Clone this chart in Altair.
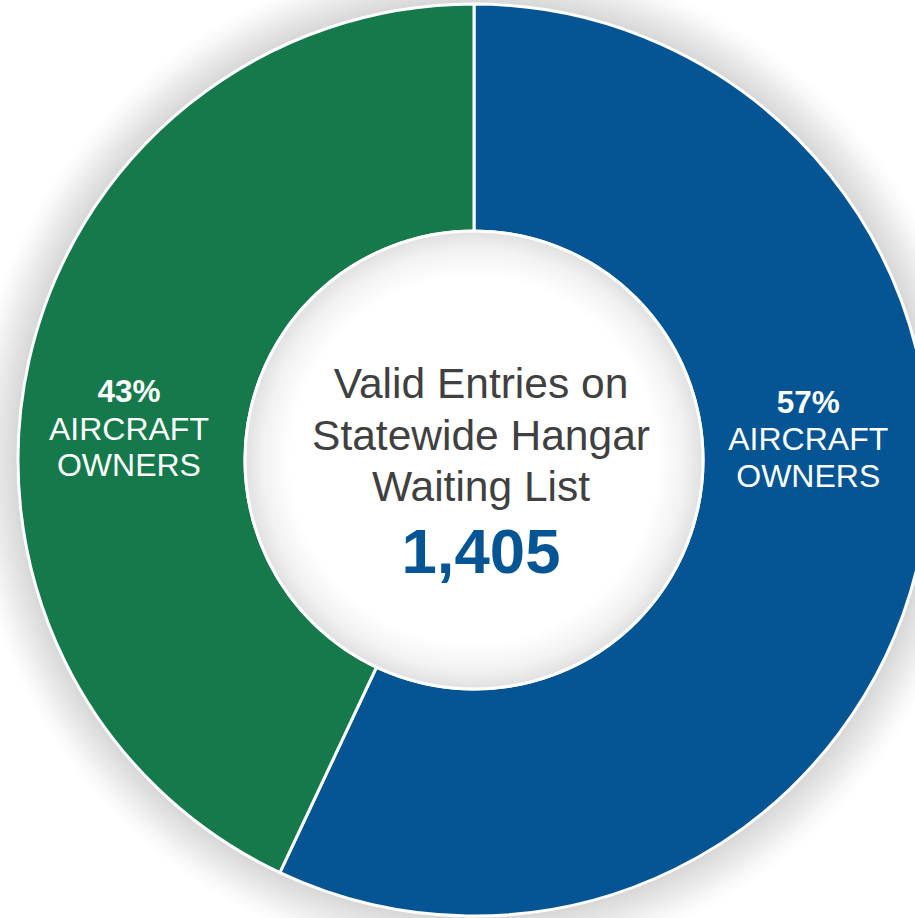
import math
import altair as alt
import pandas as pd

# ---------------- data ----------------
segments = ["Segment A", "Segment B"]
shares = [57, 43]                       # percent of entries
owner_labels = ["AIRCRAFT OWNERS", "AIRCRAFT OWNERS"]
seg_colors = ["#055594", "#15794C"]
center_lines = ["Valid Entries on", "Statewide Hangar", "Waiting List"]
total_entries = 1405

df = pd.DataFrame({
    "segment": segments,
    "share": shares,
    "idx": list(range(len(segments))),
    "label": owner_labels,
})
df["pct"] = df["share"].astype(str) + "%"
one = pd.DataFrame({"k": [0]})

# ---------------- layout / style ----------------
CX, CY = 474, 460
R_OUT, R_IN = 456, 229
R_MID = (R_OUT + R_IN) / 2
FONT = "Liberation Sans, Arial, sans-serif"
theta_scale = alt.Scale(domain=[0, sum(shares)], range=[0, 2 * math.pi])
FULL = 2 * math.pi

shadow_grad = alt.RadialGradient(
    gradient="radial", x1=0.5, y1=0.5, r1=0, x2=0.5, y2=0.5, r2=0.5,
    stops=[
        alt.GradientStop(offset=0, color="#d4d4d4"),
        alt.GradientStop(offset=0.9, color="#d4d4d4"),
        alt.GradientStop(offset=0.915, color="#dcdcdc"),
        alt.GradientStop(offset=0.945, color="#e9e9e9"),
        alt.GradientStop(offset=0.975, color="#f7f7f7"),
        alt.GradientStop(offset=1, color="#ffffff"),
    ],
)
hole_grad = alt.RadialGradient(
    gradient="radial", x1=0.5, y1=0.5, r1=0, x2=0.5, y2=0.5, r2=0.5,
    stops=[
        alt.GradientStop(offset=0, color="#ffffff"),
        alt.GradientStop(offset=0.8, color="#ffffff"),
        alt.GradientStop(offset=0.92, color="#f2f2f2"),
        alt.GradientStop(offset=1, color="#e0e0e0"),
    ],
)

pos = dict(x=alt.value(CX), y=alt.value(CY))

shadow = alt.Chart(one).mark_arc(
    theta=0, theta2=FULL, innerRadius=0, outerRadius=505, fill=shadow_grad
).encode(**pos)

donut = alt.Chart(df).mark_arc(
    innerRadius=R_IN, outerRadius=R_OUT, stroke="white", strokeWidth=3
).encode(
    theta=alt.Theta("share:Q", scale=theta_scale, stack=True),
    color=alt.Color("segment:N", scale=alt.Scale(domain=segments, range=seg_colors), legend=None),
    order=alt.Order("idx:Q", sort="ascending"),
    **pos,
)

hole = alt.Chart(one).mark_arc(
    theta=0, theta2=FULL, innerRadius=0, outerRadius=R_IN, fill=hole_grad,
    stroke="white", strokeWidth=3
).encode(**pos)


def slice_labels(i, dx, dy_pct, dy_lines):
    base = (
        alt.Chart(df)
        .transform_stack(stack="share", groupby=[], as_=["s0", "s1"],
                         sort=[alt.SortField("idx", order="ascending")])
        .transform_calculate(mid="(datum.s0 + datum.s1) / 2",
                             lines="split(datum.label, ' ')")
        .transform_filter(alt.datum.idx == i)
    )
    enc = dict(theta=alt.Theta("mid:Q", scale=theta_scale), **pos)
    pct = base.mark_text(
        radius=R_MID, dx=dx, dy=dy_pct, font=FONT, fontSize=31.5, fontWeight="bold",
        color="white", align="center", baseline="alphabetic"
    ).encode(text="pct:N", **enc)
    lines = base.mark_text(
        radius=R_MID, dx=dx, dy=dy_lines, font=FONT, fontSize=32, lineHeight=36.5,
        color="white", align="center", baseline="alphabetic"
    ).encode(text="lines:N", **enc)
    return [pct, lines]


labels = slice_labels(0, 0, -121.7, -84.7) + slice_labels(1, -10.8, 16.7, 54.7)

center_text = alt.Chart(one).mark_text(
    text=center_lines, font=FONT, fontSize=42.5, lineHeight=51.5, color="#404040",
    align="center", baseline="alphabetic"
).encode(x=alt.value(481), y=alt.value(398))

center_num = alt.Chart(one).mark_text(
    text=f"{total_entries:,}", font=FONT, fontSize=63.5, fontWeight="bold",
    color="#055594", align="center", baseline="alphabetic"
).encode(x=alt.value(481), y=alt.value(573))

chart = (
    alt.layer(shadow, donut, hole, *labels, center_text, center_num)
    .properties(width=915, height=918, autosize=alt.AutoSizeParams(type="none"),
                padding=0, background="white")
    .configure_view(strokeWidth=0)
)

chart.save("out.html", embed_options={"renderer": "svg", "actions": False})
